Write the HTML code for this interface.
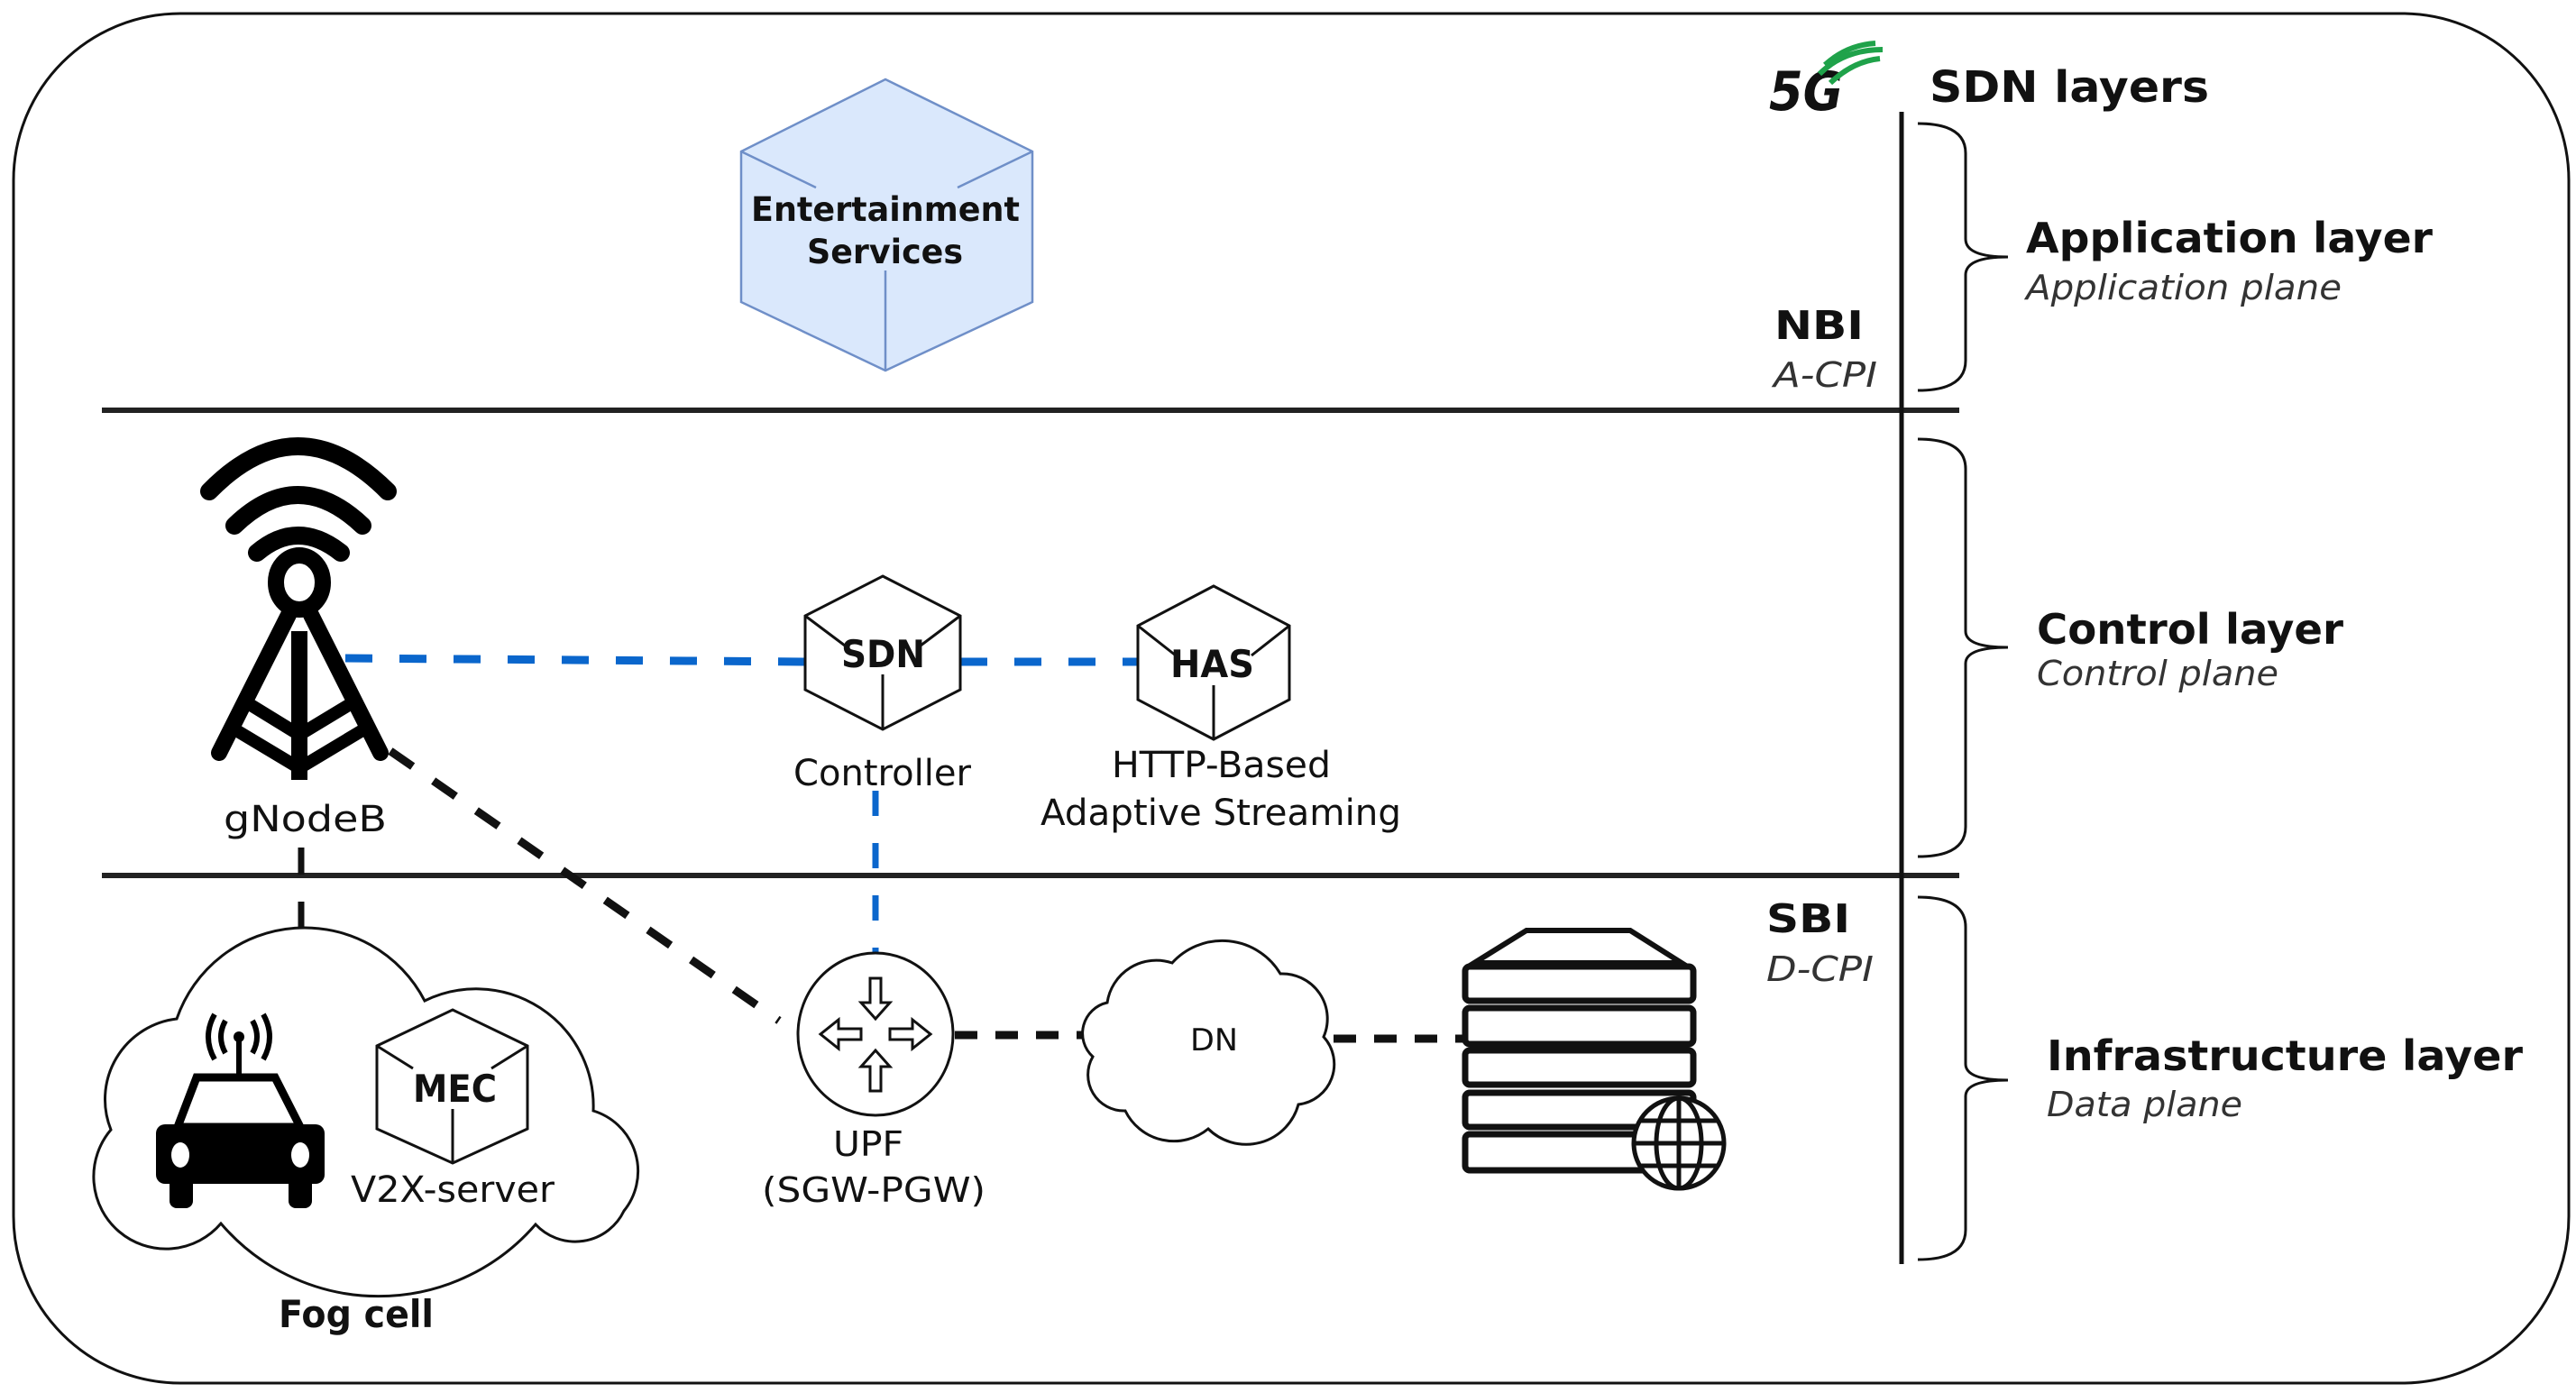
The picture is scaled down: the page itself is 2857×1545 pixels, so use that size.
<!DOCTYPE html>
<html><head><meta charset="utf-8"><style>
html,body{margin:0;padding:0;background:#fff;}
svg{display:block;}
text{font-family:"DejaVu Sans","Liberation Sans",sans-serif;fill:#111;}
.b{font-weight:bold;}
.i{font-style:italic;fill:#333;}
</style></head><body>
<svg width="2857" height="1545" viewBox="0 0 2857 1545" xmlns="http://www.w3.org/2000/svg">
<rect x="15" y="15" width="2834" height="1519" rx="185" ry="185" fill="#fff" stroke="#111" stroke-width="3"/>

<line x1="113" y1="455" x2="2173" y2="455" stroke="#222" stroke-width="6"/>
<line x1="113" y1="971" x2="2173" y2="971" stroke="#222" stroke-width="6"/>
<line x1="2109" y1="124" x2="2109" y2="1402" stroke="#111" stroke-width="5"/>

<g fill="none" stroke="#111" stroke-width="3">
<path d="M2127 137 Q2180 137 2180 170 L2180 265 Q2180 285 2227 285 Q2180 285 2180 305 L2180 400 Q2180 433 2127 433"/>
<path d="M2127 487 Q2180 487 2180 520 L2180 700 Q2180 718 2227 718 Q2180 718 2180 736 L2180 917 Q2180 950 2127 950"/>
<path d="M2127 995 Q2180 995 2180 1028 L2180 1180 Q2180 1198 2227 1198 Q2180 1198 2180 1216 L2180 1364 Q2180 1397 2127 1397"/>
</g>

<text x="1962" y="122" class="b" font-style="italic" font-size="60" fill="#222" textLength="82" lengthAdjust="spacingAndGlyphs">5G</text>
<g fill="none" stroke="#1fa24a" stroke-width="6">
<path d="M2018 82 Q2045 55 2088 55"/>
<path d="M2024 72 Q2048 50 2080 48"/>
<path d="M2030 92 Q2055 68 2085 65"/>
</g>

<text x="2140" y="113" class="b" font-size="48" textLength="310" lengthAdjust="spacingAndGlyphs">SDN layers</text>
<text x="2247" y="280" class="b" font-size="46" textLength="451" lengthAdjust="spacingAndGlyphs">Application layer</text>
<text x="2247" y="332" class="i" font-size="38" textLength="350" lengthAdjust="spacingAndGlyphs">Application plane</text>
<text x="2259" y="714" class="b" font-size="46" textLength="340" lengthAdjust="spacingAndGlyphs">Control layer</text>
<text x="2259" y="760" class="i" font-size="38" textLength="268" lengthAdjust="spacingAndGlyphs">Control plane</text>
<text x="2270" y="1187" class="b" font-size="46" textLength="528" lengthAdjust="spacingAndGlyphs">Infrastructure layer</text>
<text x="2270" y="1238" class="i" font-size="38" textLength="217" lengthAdjust="spacingAndGlyphs">Data plane</text>
<text x="1968" y="376" class="b" font-size="44" textLength="99" lengthAdjust="spacingAndGlyphs">NBI</text>
<text x="1967" y="429" class="i" font-size="38" textLength="115" lengthAdjust="spacingAndGlyphs">A-CPI</text>
<text x="1959" y="1034" class="b" font-size="44" textLength="93" lengthAdjust="spacingAndGlyphs">SBI</text>
<text x="1959" y="1088" class="i" font-size="38" textLength="119" lengthAdjust="spacingAndGlyphs">D-CPI</text>

<g stroke="#6f8fc8" stroke-width="2.5" fill="#dae8fc">
<polygon points="982,88 1145,168 1145,335 982,411 822,335 822,168"/>
<g fill="none">
<line x1="822" y1="168" x2="905" y2="208"/><line x1="1145" y1="168" x2="1062" y2="208"/>
<line x1="982" y1="300" x2="982" y2="411"/>
</g></g>
<text x="833" y="245" class="b" font-size="37" textLength="298" lengthAdjust="spacingAndGlyphs">Entertainment</text>
<text x="895" y="292" class="b" font-size="37" textLength="173" lengthAdjust="spacingAndGlyphs">Services</text>

<g fill="none" stroke-width="9">
<line x1="383" y1="730" x2="893" y2="734" stroke="#0a66cc" stroke-dasharray="30 30"/>
<line x1="1065" y1="734" x2="1262" y2="734" stroke="#0a66cc" stroke-dasharray="30 30"/>
<line x1="971" y1="877" x2="971" y2="1077" stroke="#0a66cc" stroke-width="7" stroke-dasharray="28 30"/>
<line x1="433" y1="833" x2="864" y2="1132" stroke="#111" stroke-dasharray="30 28"/>
<line x1="334" y1="940" x2="334" y2="1065" stroke="#111" stroke-width="7" stroke-dasharray="30 30"/>
<line x1="1059" y1="1148" x2="1205" y2="1148" stroke="#111" stroke-dasharray="25 20"/>
<line x1="1479" y1="1152" x2="1625" y2="1152" stroke="#111" stroke-dasharray="25 20"/>
</g>

<g fill="none" stroke="#000" stroke-width="20" stroke-linecap="round">
<path d="M232 545 Q330 445 430 545"/>
<path d="M260 583 Q330 515 402 583"/>
<path d="M285 613 Q330 575 378 613"/>
<ellipse cx="332" cy="646" rx="26" ry="30" stroke-width="18"/>
<path d="M320 682 L243 835 M345 682 L422 835" stroke-width="18"/>
<line x1="332" y1="700" x2="332" y2="865" stroke-width="18" stroke-linecap="butt"/>
<path d="M262 810 L332 852 L402 810 M275 780 L332 815 L390 780" stroke-width="14"/>
</g>
<text x="248" y="922" font-size="40" textLength="181" lengthAdjust="spacingAndGlyphs">gNodeB</text>

<g stroke="#111" stroke-width="3" fill="#fff">
<polygon points="979,639 1065,683 1065,765 979,809 893,765 893,683"/>
<g fill="none"><line x1="893" y1="683" x2="937" y2="716"/><line x1="1065" y1="683" x2="1021" y2="716"/><line x1="979" y1="748" x2="979" y2="809"/></g>
</g>
<text x="933" y="740" class="b" font-size="42" textLength="93" lengthAdjust="spacingAndGlyphs">SDN</text>
<text x="880" y="871" font-size="40" textLength="197" lengthAdjust="spacingAndGlyphs">Controller</text>

<g stroke="#111" stroke-width="3" fill="#fff">
<polygon points="1346,650 1430,694 1430,776 1346,820 1262,776 1262,694"/>
<g fill="none"><line x1="1262" y1="694" x2="1304" y2="727"/><line x1="1430" y1="694" x2="1388" y2="727"/><line x1="1346" y1="760" x2="1346" y2="820"/></g>
</g>
<text x="1298" y="751" class="b" font-size="42" textLength="93" lengthAdjust="spacingAndGlyphs">HAS</text>
<text x="1233" y="862" font-size="40" textLength="243" lengthAdjust="spacingAndGlyphs">HTTP-Based</text>
<text x="1154" y="915" font-size="40" textLength="400" lengthAdjust="spacingAndGlyphs">Adaptive Streaming</text>

<ellipse cx="971" cy="1147" rx="86" ry="90" fill="#fff" stroke="#111" stroke-width="3"/>
<g fill="#fff" stroke="#111" stroke-width="3">
<polygon points="965,1085 977,1085 977,1112 987,1112 971,1130 955,1112 965,1112"/>
<polygon points="965,1210 977,1210 977,1183 987,1183 971,1165 955,1183 965,1183"/>
<polygon points="955,1141 955,1153 930,1153 930,1163 910,1147 930,1131 930,1141"/>
<polygon points="987,1141 987,1153 1012,1153 1012,1163 1032,1147 1012,1131 1012,1141"/>
</g>
<text x="924" y="1282" font-size="38" textLength="78" lengthAdjust="spacingAndGlyphs">UPF</text>
<text x="845" y="1333" font-size="38" textLength="248" lengthAdjust="spacingAndGlyphs">(SGW-PGW)</text>

<path d="M1228 1112 A55 55 0 0 1 1300 1068 A75 75 0 0 1 1420 1080 A50 50 0 0 1 1468 1150 A45 45 0 0 1 1440 1225 A60 60 0 0 1 1340 1252 A60 60 0 0 1 1248 1232 A40 40 0 0 1 1212 1172 A35 35 0 0 1 1228 1112 Z" fill="#fff" stroke="#111" stroke-width="3"/>
<text x="1320" y="1165" font-size="34" textLength="53" lengthAdjust="spacingAndGlyphs">DN</text>

<g fill="#fff" stroke="#111" stroke-width="7">
<path d="M1693 1032 L1808 1032 L1865 1068 L1635 1068 Z" stroke-width="6"/>
<rect x="1625" y="1072" width="253" height="38" rx="5"/>
<rect x="1625" y="1118" width="253" height="40" rx="5"/>
<rect x="1625" y="1165" width="253" height="38" rx="5"/>
<rect x="1625" y="1212" width="253" height="38" rx="5"/>
<rect x="1625" y="1258" width="253" height="40" rx="5"/>
</g>
<g fill="#fff" stroke="#111" stroke-width="5">
<circle cx="1862" cy="1268" r="50"/>
<ellipse cx="1862" cy="1268" rx="25" ry="50" fill="none"/>
<line x1="1862" y1="1218" x2="1862" y2="1318"/>
<line x1="1812" y1="1268" x2="1912" y2="1268"/>
<line x1="1820" y1="1243" x2="1904" y2="1243"/>
<line x1="1820" y1="1293" x2="1904" y2="1293"/>
</g>

<path d="M196 1130 A150 150 0 0 1 471 1110 A130 130 0 0 1 658 1232 A70 70 0 0 1 692 1343 A60 60 0 0 1 594 1358 A230 230 0 0 1 245 1357 A80 80 0 0 1 123 1253 A90 90 0 0 1 196 1130 Z" fill="#fff" stroke="#111" stroke-width="3"/>

<g fill="#000" stroke="#000">
<path d="M218 1195 L305 1195 L333 1250 L197 1250 Z" fill="none" stroke-width="9"/>
<rect x="173" y="1247" width="187" height="66" rx="10" stroke="none"/>
<rect x="188" y="1300" width="26" height="40" rx="8" stroke="none"/>
<rect x="320" y="1300" width="26" height="40" rx="8" stroke="none"/>
<line x1="265" y1="1150" x2="265" y2="1195" stroke-width="6"/>
<circle cx="265" cy="1150" r="6" stroke="none"/>
<g fill="none" stroke-width="6">
<path d="M250 1132 Q240 1150 250 1168"/><path d="M280 1132 Q290 1150 280 1168"/>
<path d="M238 1125 Q224 1150 238 1175"/><path d="M292 1125 Q306 1150 292 1175"/>
</g>
</g>
<ellipse cx="200" cy="1281" rx="10" ry="14" fill="#fff"/>
<ellipse cx="333" cy="1281" rx="10" ry="14" fill="#fff"/>

<g stroke="#111" stroke-width="3" fill="#fff">
<polygon points="502,1120 585,1160 585,1252 502,1290 418,1252 418,1160"/>
<g fill="none"><line x1="418" y1="1160" x2="458" y2="1185"/><line x1="585" y1="1160" x2="545" y2="1185"/><line x1="502" y1="1230" x2="502" y2="1290"/></g>
</g>
<text x="458" y="1222" class="b" font-size="42" textLength="93" lengthAdjust="spacingAndGlyphs">MEC</text>
<text x="389" y="1333" font-size="40" textLength="226" lengthAdjust="spacingAndGlyphs">V2X-server</text>
<text x="309" y="1472" class="b" font-size="42" textLength="172" lengthAdjust="spacingAndGlyphs">Fog cell</text>
</svg>
</body></html>
